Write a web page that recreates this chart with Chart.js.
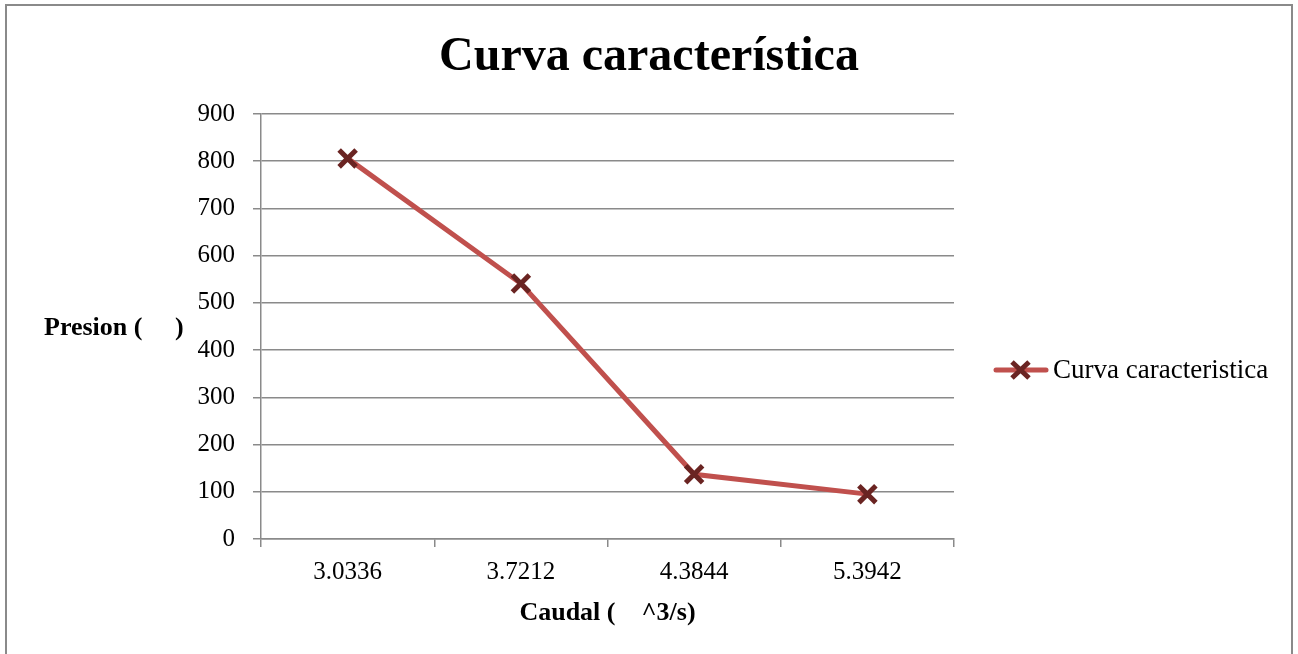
<!DOCTYPE html>
<html>
<head>
<meta charset="utf-8">
<script src="https://cdn.jsdelivr.net/npm/chart.js@4"></script>
<style>
    html, body { margin: 0; padding: 0; background: #fff; }
    #chart { display: block; }
</style>
</head>
<body>
<canvas id="chart" width="1298" height="654"></canvas>
<script>
var caudales = ['3.0336', '3.7212', '4.3844', '5.3942'];
var presiones = [806, 541, 137, 95];
var serieNombre = 'Curva caracteristica';
var titulo = 'Curva característica';
var ejeX = 'Caudal (    ^3/s)';
var ejeY = 'Presion (     )';

var fuente = '"Liberation Serif", "Times New Roman", serif';
var gris = '#8a8a8a';
var rojo = '#c0504d';
var granate = '#6a2422';

document.addEventListener("DOMContentLoaded", function() {
    var ctx = document.getElementById('chart').getContext('2d');

    // marco, titulo, etiqueta del eje Y y leyenda
    var extras = {
        id: 'extras',
        beforeDraw: function(chart) {
            var c = chart.ctx;
            c.save();
            c.fillStyle = '#fff';
            c.fillRect(0, 0, chart.width, chart.height);
            c.strokeStyle = gris;
            c.lineWidth = 2;
            c.strokeRect(6, 5, 1286, 700);
            c.restore();
        },
        afterDraw: function(chart) {
            var c = chart.ctx;
            var area = chart.chartArea;
            c.save();
            c.fillStyle = '#000';
            c.textBaseline = 'alphabetic';
            c.textAlign = 'center';
            c.font = 'bold 48px ' + fuente;
            c.fillText(titulo, chart.width / 2, 70);

            c.textAlign = 'left';
            c.textBaseline = 'middle';
            c.font = 'bold 26px ' + fuente;
            c.fillText(ejeY, 44, (area.top + area.bottom) / 2 + 2);

            // leyenda
            var ly = 370;
            c.strokeStyle = rojo;
            c.lineWidth = 5;
            c.lineCap = 'round';
            c.beginPath();
            c.moveTo(996, ly);
            c.lineTo(1046, ly);
            c.stroke();
            c.strokeStyle = granate;
            c.lineCap = 'butt';
            c.beginPath();
            c.moveTo(1012, ly - 8);
            c.lineTo(1029, ly + 8);
            c.moveTo(1012, ly + 8);
            c.lineTo(1029, ly - 8);
            c.stroke();
            c.font = '27px ' + fuente;
            c.fillText(serieNombre, 1053, ly + 1);
            c.restore();
        }
    };

    var chart = new Chart(ctx, {
        type: 'line',
        data: {
            labels: caudales,
            datasets: [{
                label: serieNombre,
                data: presiones,
                borderColor: rojo,
                borderWidth: 5,
                fill: false,
                tension: 0,
                pointStyle: 'crossRot',
                pointRadius: 12,
                pointBorderWidth: 5,
                pointBorderColor: granate,
                pointBackgroundColor: granate
            }]
        },
        options: {
            responsive: false,
            animation: false,
            layout: { padding: { top: 114, right: 344, bottom: 0, left: 0 } },
            plugins: {
                legend: { display: false },
                tooltip: { enabled: false },
                title: { display: false }
            },
            scales: {
                x: {
                    offset: true,
                    afterFit: function(scale) { scale.height = 115; },
                    grid: {
                        offset: true,
                        drawOnChartArea: false,
                        tickLength: 8,
                        color: gris,
                        lineWidth: 1.5
                    },
                    border: { color: gris, width: 1.5 },
                    ticks: {
                        color: '#000',
                        padding: 10,
                        maxRotation: 0,
                        font: { family: fuente, size: 25 }
                    },
                    title: {
                        display: true,
                        text: ejeX,
                        color: '#000',
                        font: { family: fuente, size: 26, weight: 'bold' },
                        padding: { top: 0, bottom: 25 }
                    }
                },
                y: {
                    min: 0,
                    max: 900,
                    afterFit: function(scale) { scale.width = 261; },
                    grid: {
                        tickLength: 8,
                        color: gris,
                        lineWidth: 1.5
                    },
                    border: { color: gris, width: 1.5 },
                    ticks: {
                        stepSize: 100,
                        color: '#000',
                        padding: 18,
                        font: { family: fuente, size: 25 }
                    }
                }
            }
        },
        plugins: [extras]
    });
});
</script>
</body>
</html>
